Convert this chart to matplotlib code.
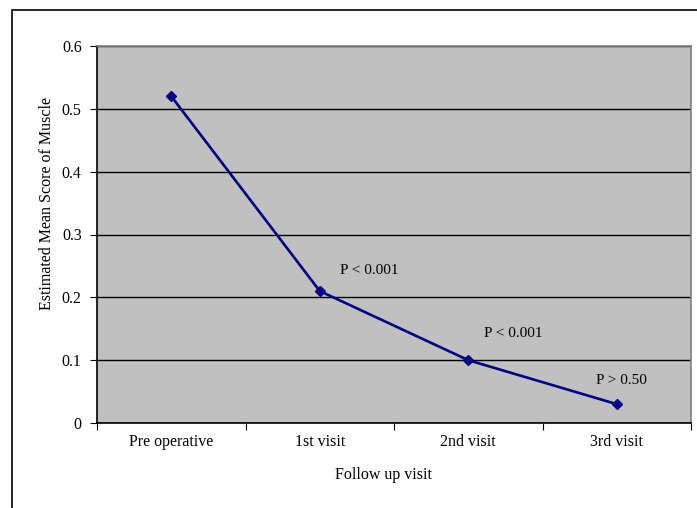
import matplotlib.pyplot as plt
from matplotlib.patches import Rectangle

plt.rcParams['font.family'] = ['Liberation Serif', 'DejaVu Serif']

visitas = ['Pre operative', '1st visit', '2nd visit', '3rd visit']
escore = [0.52, 0.21, 0.10, 0.03]
p_textos = ['P < 0.001', 'P < 0.001', 'P > 0.50']
p_x = [1.33, 2.30, 3.03]
p_y = [0.2435, 0.143, 0.068]

fig = plt.figure(figsize=(6.97, 5.08), dpi=100)
W, H = 697, 508
ax = fig.add_axes([97 / W, 1 - 423 / H, (691 - 97) / W, (423 - 46) / H])

# moldura externa (cortada a direita e embaixo)
fig.patches.append(Rectangle((12 / W, -0.1), 1.2, 1 - 10 / H + 0.1,
                             transform=fig.transFigure, fill=False,
                             edgecolor='black', linewidth=1.2))

ax.set_facecolor('#C0C0C0')
x = list(range(len(visitas)))
ax.plot(x, escore, color='#000080', linewidth=1.9, marker='D', markersize=5)

for t, px, py in zip(p_textos, p_x, p_y):
    ax.text(px, py, t, ha='center', va='center', fontsize=11)

ax.set_xlim(-0.5, 3.5)
ax.set_ylim(0, 0.6)
ax.set_yticks([0, 0.1, 0.2, 0.3, 0.4, 0.5, 0.6])
ax.set_yticklabels(['0', '0.1', '0.2', '0.3', '0.4', '0.5', '0.6'], fontsize=11.5)
ax.yaxis.grid(True, color='black', linewidth=1)
ax.set_axisbelow(True)

ax.set_xticks([-0.5, 0.5, 1.5, 2.5, 3.5])
ax.set_xticklabels([])
ax.set_xticks(x, minor=True)
ax.set_xticklabels(visitas, minor=True, fontsize=11.5)
ax.tick_params(axis='x', which='minor', length=0, pad=8)
ax.tick_params(axis='x', which='major', length=5, direction='out')
ax.tick_params(axis='y', length=5, direction='out', pad=6)

for s in ['top', 'right']:
    ax.spines[s].set_color('#808080')
    ax.spines[s].set_linewidth(1.2)
for s in ['left', 'bottom']:
    ax.spines[s].set_color('black')
    ax.spines[s].set_linewidth(1.2)

fig.text(383 / W, 1 - 475 / H, 'Follow up visit', ha='center', va='center', fontsize=11.5)
fig.text(47 / W, 1 - 203 / H, 'Estimated Mean Score of Muscle', rotation=90,
         ha='center', va='center', fontsize=11.5)

fig.savefig('out.png', dpi=100)
